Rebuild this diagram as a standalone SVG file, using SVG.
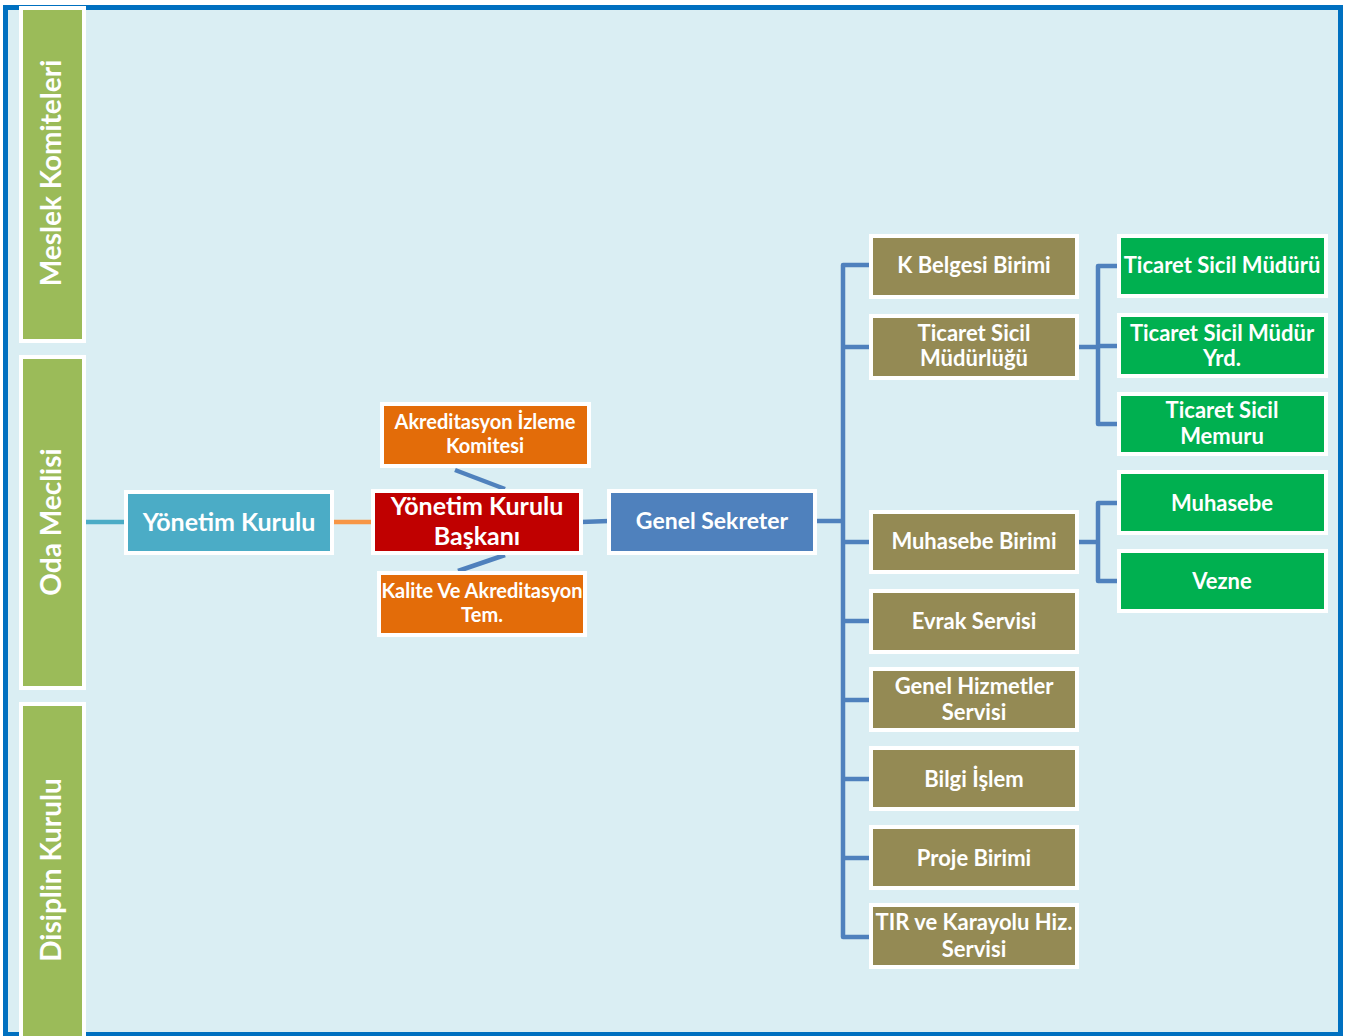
<svg xmlns="http://www.w3.org/2000/svg" width="1346" height="1036" viewBox="0 0 1346 1036">
<style>
.t{font-family:Lato,"Open Sans","Liberation Sans",sans-serif;font-weight:bold;fill:#fff;text-anchor:middle}
.b{stroke:#fff;stroke-width:4}
.side{fill:#9BBB59}
.olive{fill:#948A54}
.grn{fill:#00B050}
.org{fill:#E36C09}
.c{fill:none;stroke:#4F81BD;stroke-width:4.5;stroke-linejoin:round}
</style>
<rect x="0" y="0" width="1346" height="1036" fill="#fff"/>
<rect x="5.5" y="7.5" width="1335" height="1027" fill="#DAEEF3" stroke="#0070C0" stroke-width="5"/>
<g id="meslek">
<rect class="side b" x="21" y="8" width="63" height="333"/>
<text class="t" transform="translate(61,173) rotate(-90)" font-size="28">Meslek Komiteleri</text>
</g>
<g id="oda">
<rect class="side b" x="21" y="357" width="63" height="331"/>
<text class="t" transform="translate(61,522) rotate(-90)" font-size="28">Oda Meclisi</text>
</g>
<g id="disiplin">
<rect class="side b" x="21" y="704" width="63" height="334"/>
<text class="t" transform="translate(61,870) rotate(-90)" font-size="28">Disiplin Kurulu</text>
</g>
<g id="connectors">
<line x1="86" y1="522" x2="126" y2="522" stroke="#4BACC6" stroke-width="4.5"/>
<line x1="332" y1="522" x2="373" y2="522" stroke="#F79646" stroke-width="4.5"/>
<line x1="455" y1="470" x2="505" y2="489" stroke="#4F81BD" stroke-width="4.5"/>
<line x1="505" y1="555" x2="458" y2="571" stroke="#4F81BD" stroke-width="4.5"/>
<line x1="581" y1="522" x2="609" y2="521" stroke="#4F81BD" stroke-width="4.5"/>
<polyline class="c" points="815,521 843,521"/>
<polyline class="c" points="871,265 843,265 843,937 871,937"/>
<polyline class="c" points="843,347 871,347"/>
<polyline class="c" points="843,542 871,542"/>
<polyline class="c" points="843,621 871,621"/>
<polyline class="c" points="843,700 871,700"/>
<polyline class="c" points="843,779 871,779"/>
<polyline class="c" points="843,858 871,858"/>
<polyline class="c" points="1077,347 1098,347"/>
<polyline class="c" points="1119,266 1098,266 1098,424 1119,424"/>
<polyline class="c" points="1098,346 1119,346"/>
<polyline class="c" points="1077,542 1098,542"/>
<polyline class="c" points="1119,503 1098,503 1098,581 1119,581"/>
</g>
<g id="yonetim">
<rect class="b" fill="#4BACC6" x="126" y="492" width="206" height="61"/>
<text class="t" x="229" y="531" font-size="25">Yönetim Kurulu</text>
</g>
<g id="baskan">
<rect class="b" fill="#C00000" x="373" y="491" width="208" height="62"/>
<text class="t" x="477" y="515" font-size="25">Yönetim Kurulu</text>
<text class="t" x="477" y="545" font-size="25">Başkanı</text>
</g>
<g id="akreditasyon">
<rect class="b org" x="382" y="404" width="207" height="62"/>
<text class="t" x="485" y="429" font-size="20">Akreditasyon İzleme</text>
<text class="t" x="485" y="453" font-size="20">Komitesi</text>
</g>
<g id="kalite">
<rect class="b org" x="379" y="573" width="206" height="62"/>
<text class="t" x="482" y="598" font-size="20">Kalite Ve Akreditasyon</text>
<text class="t" x="482" y="622" font-size="20">Tem.</text>
</g>
<g id="genel">
<rect class="b" fill="#4F81BD" x="609" y="491" width="206" height="62"/>
<text class="t" x="712" y="529" font-size="23">Genel Sekreter</text>
</g>
<g id="kbelgesi">
<rect class="b olive" x="871" y="236" width="206" height="61"/>
<text class="t" x="974" y="273" font-size="22">K Belgesi Birimi</text>
</g>
<g id="ticsicmudurlugu">
<rect class="b olive" x="871" y="316" width="206" height="62"/>
<text class="t" x="974" y="341" font-size="22">Ticaret Sicil</text>
<text class="t" x="974" y="366" font-size="22">Müdürlüğü</text>
</g>
<g id="muhasebebirimi">
<rect class="b olive" x="871" y="512" width="206" height="60"/>
<text class="t" x="974" y="549" font-size="22">Muhasebe Birimi</text>
</g>
<g id="evrak">
<rect class="b olive" x="871" y="591" width="206" height="61"/>
<text class="t" x="974" y="629" font-size="22">Evrak Servisi</text>
</g>
<g id="genelhizmetler">
<rect class="b olive" x="871" y="669" width="206" height="61"/>
<text class="t" x="974" y="694" font-size="22">Genel Hizmetler</text>
<text class="t" x="974" y="720" font-size="22">Servisi</text>
</g>
<g id="bilgiislem">
<rect class="b olive" x="871" y="748" width="206" height="61"/>
<text class="t" x="974" y="787" font-size="22">Bilgi İşlem</text>
</g>
<g id="proje">
<rect class="b olive" x="871" y="827" width="206" height="61"/>
<text class="t" x="974" y="866" font-size="22">Proje Birimi</text>
</g>
<g id="tir">
<rect class="b olive" x="871" y="905" width="206" height="62"/>
<text class="t" x="974" y="930" font-size="22">TIR ve Karayolu Hiz.</text>
<text class="t" x="974" y="957" font-size="22">Servisi</text>
</g>
<g id="ticsicmuduru">
<rect class="b grn" x="1119" y="236" width="207" height="60"/>
<text class="t" x="1222" y="273" font-size="22">Ticaret Sicil Müdürü</text>
</g>
<g id="ticsicmudyrd">
<rect class="b grn" x="1119" y="315" width="207" height="61"/>
<text class="t" x="1222" y="341" font-size="22">Ticaret Sicil  Müdür</text>
<text class="t" x="1222" y="366" font-size="22">Yrd.</text>
</g>
<g id="ticsicmemuru">
<rect class="b grn" x="1119" y="394" width="207" height="60"/>
<text class="t" x="1222" y="418" font-size="22">Ticaret Sicil</text>
<text class="t" x="1222" y="444" font-size="22">Memuru</text>
</g>
<g id="muhasebe">
<rect class="b grn" x="1119" y="472" width="207" height="61"/>
<text class="t" x="1222" y="511" font-size="22">Muhasebe</text>
</g>
<g id="vezne">
<rect class="b grn" x="1119" y="551" width="207" height="60"/>
<text class="t" x="1222" y="589" font-size="22">Vezne</text>
</g>
</svg>
